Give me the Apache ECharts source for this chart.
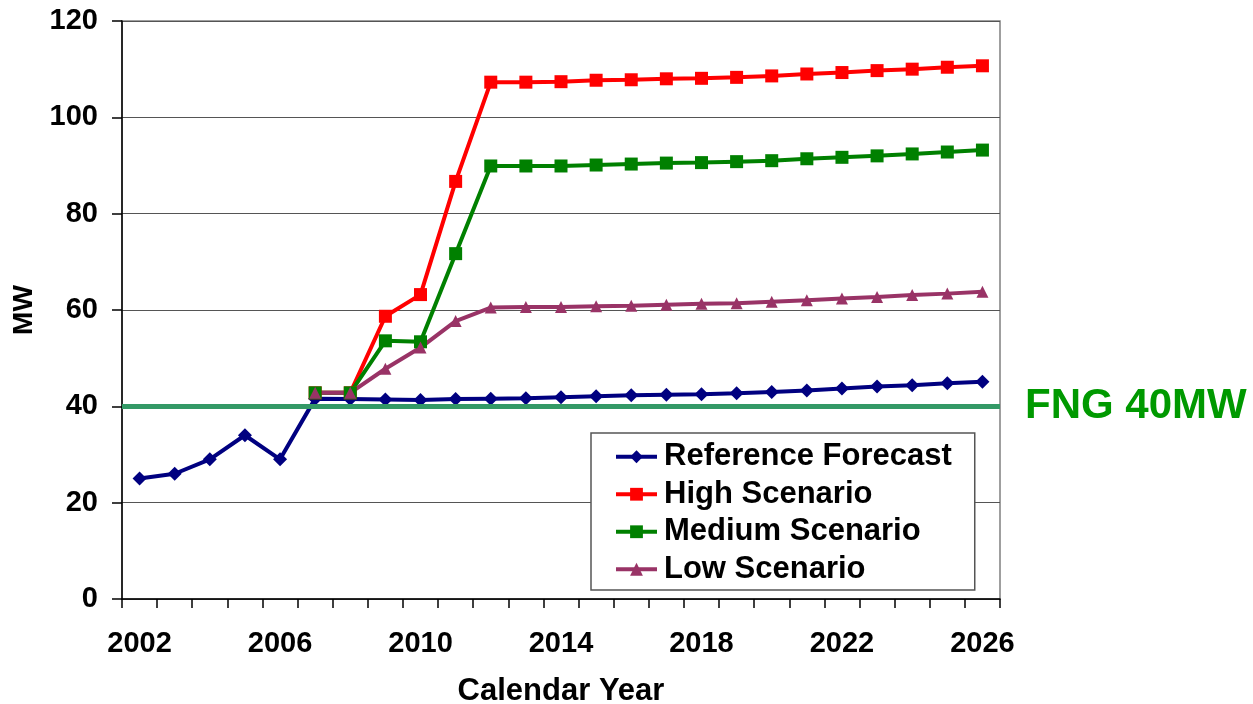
<!DOCTYPE html>
<html>
<head>
<meta charset="utf-8">
<script src="https://cdn.jsdelivr.net/npm/echarts@6/dist/echarts.min.js"></script>
<style>
  html, body { margin: 0; padding: 0; background: #ffffff; }
  #chart { width: 1253px; height: 704px; }
</style>
</head>
<body>
<div id="chart"></div>
<script>
// Calendar years on the category axis
const years = ['2002','2003','2004','2005','2006','2007','2008','2009','2010','2011','2012','2013','2014',
  '2015','2016','2017','2018','2019','2020','2021','2022','2023','2024','2025','2026'];

// Load in MW per year
const referenceForecast = [25, 26, 29, 34, 29, 41.6, 41.5, 41.4, 41.3, 41.5, 41.6, 41.7, 41.9,
  42.1, 42.3, 42.4, 42.5, 42.7, 43.0, 43.3, 43.7, 44.1, 44.4, 44.8, 45.1];
const highScenario = [null, null, null, null, null, 42.8, 42.8, 58.7, 63.2, 86.7, 107.3, 107.3, 107.4,
  107.7, 107.8, 108.0, 108.1, 108.3, 108.6, 109.0, 109.3, 109.7, 110.0, 110.4, 110.7];
const mediumScenario = [null, null, null, null, null, 42.8, 42.8, 53.6, 53.4, 71.7, 89.9, 89.9, 89.9,
  90.1, 90.3, 90.5, 90.6, 90.8, 91.0, 91.4, 91.7, 92.0, 92.4, 92.8, 93.2];
const lowScenario = [null, null, null, null, null, 42.8, 42.8, 47.8, 52.2, 57.7, 60.5, 60.6, 60.6,
  60.8, 60.9, 61.1, 61.3, 61.4, 61.7, 62.0, 62.4, 62.7, 63.1, 63.4, 63.8];

// FNG capacity level
const fngLevel = 40;
const fngLabel = 'FNG 40MW';

const FONT = "'Liberation Sans', Arial, Helvetica, sans-serif";

const chart = echarts.init(document.getElementById('chart'), null, { renderer: 'canvas' });

function lineSeries(name, data, color, symbol, size) {
  return {
    name: name,
    type: 'line',
    data: data,
    symbol: symbol,
    symbolSize: size,
    showAllSymbol: true,
    connectNulls: false,
    animation: false,
    lineStyle: { color: color, width: 4 },
    itemStyle: { color: color },
    emphasis: { disabled: true }
  };
}

const refSeries = lineSeries('Reference Forecast', referenceForecast, '#000080', 'diamond', 14);
refSeries.markLine = {
  silent: true,
  symbol: 'none',
  animation: false,
  lineStyle: { color: '#339966', width: 5, type: 'solid' },
  label: {
    show: true,
    position: 'end',
    distance: 25,
    formatter: fngLabel,
    color: '#009900',
    fontFamily: FONT,
    fontWeight: 'bold',
    fontSize: 42,
    padding: [6, 0, 0, 0]
  },
  data: [{ yAxis: fngLevel }]
};

chart.setOption({
  backgroundColor: '#ffffff',
  animation: false,
  textStyle: { fontFamily: FONT },
  grid: {
    left: 122, right: 253, top: 21, bottom: 105,
    outerBoundsMode: 'none',
    containLabel: false,
    show: true, borderColor: '#808080', borderWidth: 1.5, backgroundColor: 'transparent'
  },
  legend: {
    orient: 'vertical',
    left: 591,
    top: 433,
    padding: [5, 23, 2, 23],
    itemGap: 0,
    itemWidth: 41,
    itemHeight: 16,
    lineStyle: { width: 4 },
    backgroundColor: '#ffffff',
    borderColor: '#555555',
    borderWidth: 1.5,
    borderRadius: 0,
    selectedMode: false,
    textStyle: {
      fontFamily: FONT, fontWeight: 'bold', fontSize: 31, color: '#000000',
      lineHeight: 37.5, padding: [0, 0, 0, 2]
    },
    data: ['Reference Forecast', 'High Scenario', 'Medium Scenario', 'Low Scenario']
  },
  xAxis: {
    type: 'category',
    data: years,
    boundaryGap: true,
    name: 'Calendar Year',
    nameLocation: 'middle',
    nameGap: 77,
    nameTextStyle: { fontFamily: FONT, fontWeight: 'bold', fontSize: 31, color: '#000000' },
    axisLine: { lineStyle: { color: '#000000', width: 1.5 } },
    axisTick: { show: true, interval: 0, length: 9, alignWithLabel: false, lineStyle: { color: '#000000', width: 1.5 } },
    axisLabel: {
      interval: 3, margin: 30,
      fontFamily: FONT, fontWeight: 'bold', fontSize: 29, color: '#000000'
    },
    splitLine: { show: false }
  },
  yAxis: {
    type: 'value',
    min: 0, max: 120, interval: 20,
    name: 'MW',
    nameLocation: 'middle',
    nameGap: 67,
    nameRotate: 90,
    nameTextStyle: { fontFamily: FONT, fontWeight: 'bold', fontSize: 28, color: '#000000' },
    axisLine: { show: true, lineStyle: { color: '#000000', width: 1.5 } },
    axisTick: { show: true, length: 10, lineStyle: { color: '#000000', width: 1.5 } },
    axisLabel: { margin: 24, fontFamily: FONT, fontWeight: 'bold', fontSize: 29, color: '#000000' },
    splitLine: { show: true, lineStyle: { color: '#555555', width: 1.2 } }
  },
  series: [
    refSeries,
    lineSeries('High Scenario', highScenario, '#ff0000', 'rect', 13),
    lineSeries('Medium Scenario', mediumScenario, '#008000', 'rect', 13),
    lineSeries('Low Scenario', lowScenario, '#993366', 'triangle', 12)
  ]
});
</script>
</body>
</html>
